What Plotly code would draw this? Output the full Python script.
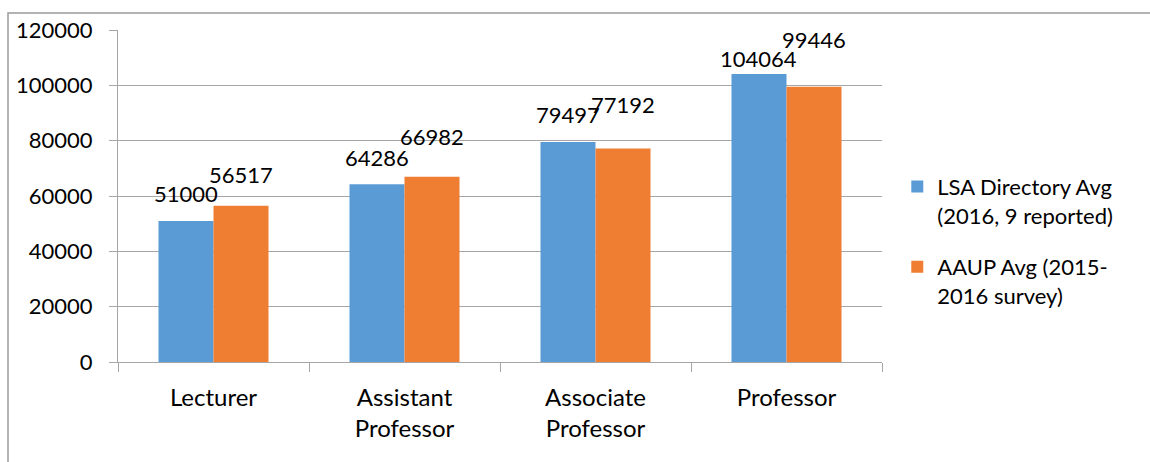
import plotly.graph_objects as go

# Faculty salary averages by rank
ranks = ["Lecturer", "Assistant<br>Professor", "Associate<br>Professor", "Professor"]
lsa_avg = [51000, 64286, 79497, 104064]
aaup_avg = [56517, 66982, 77192, 99446]

lsa_name = "LSA Directory Avg<br>(2016, 9 reported)"
aaup_name = "AAUP Avg (2015-<br>2016 survey)"

y_ticks = [0, 20000, 40000, 60000, 80000, 100000, 120000]

# label lift above each bar top, in pixels (hand-placed labels)
lsa_lift = [27, 27, 28, 16]
aaup_lift = [31, 40, 44, 47]

FONT = "Lato"
BLUE = "#5b9bd5"
ORANGE = "#ef7e32"
GRID = "#a6a6a6"

fig = go.Figure()
fig.add_trace(go.Bar(x=ranks, y=lsa_avg, name=lsa_name, marker_color=BLUE,
                     marker_line_width=0, legendgroup="a"))
fig.add_trace(go.Bar(x=ranks, y=aaup_avg, name=aaup_name, marker_color=ORANGE,
                     marker_line_width=0, legendgroup="b"))

half = 0.576 / 4  # half a bar width, in category units
cat_px = (1150 - 118 - 268) / len(ranks)
for vals, lifts, side in ((lsa_avg, lsa_lift, -1), (aaup_avg, aaup_lift, 1)):
    for r, v, lift in zip(ranks, vals, lifts):
        fig.add_annotation(x=r, y=v, text=str(v), showarrow=False,
                           xshift=side * half * cat_px, yshift=lift,
                           yanchor="middle", xanchor="center",
                           font=dict(family=FONT, size=22, color="#000000"))

# outer chart frame
fig.add_shape(type="rect", xref="paper", yref="paper",
              x0=(8 - 118) / 764, x1=1.6, y0=-0.6, y1=1 + 17 / 332,
              line=dict(color="#9a9a9a", width=1.5), layer="below")

fig.update_layout(
    width=1150, height=462,
    margin=dict(l=118, r=268, t=30, b=100),
    paper_bgcolor="white", plot_bgcolor="white",
    barmode="group", bargap=0.424, bargroupgap=0,
    font=dict(family=FONT, size=22, color="#000000"),
    showlegend=True,
    legend=dict(x=1.02, y=0.364, xanchor="left", yanchor="middle",
                valign="top", tracegroupgap=20, traceorder="grouped",
                bgcolor="rgba(0,0,0,0)",
                font=dict(family=FONT, size=22, color="#000000"),
                itemwidth=30),
)
fig.update_xaxes(showline=True, linecolor=GRID, linewidth=1,
                 ticks="outside", ticklen=9, tickcolor=GRID,
                 tickson="boundaries", showgrid=False,
                 tickfont=dict(family=FONT, size=24, color="#000000"),
                 ticklabelstandoff=14)
fig.update_yaxes(range=[0, 120000], tickvals=y_ticks,
                 ticktext=[str(t) for t in y_ticks],
                 showline=True, linecolor=GRID, linewidth=1,
                 showgrid=True, gridcolor=GRID, gridwidth=1,
                 ticks="outside", ticklen=8, tickcolor=GRID,
                 zeroline=False,
                 tickfont=dict(family=FONT, size=22, color="#000000"),
                 ticklabelstandoff=12)

fig.write_html("out.html")
